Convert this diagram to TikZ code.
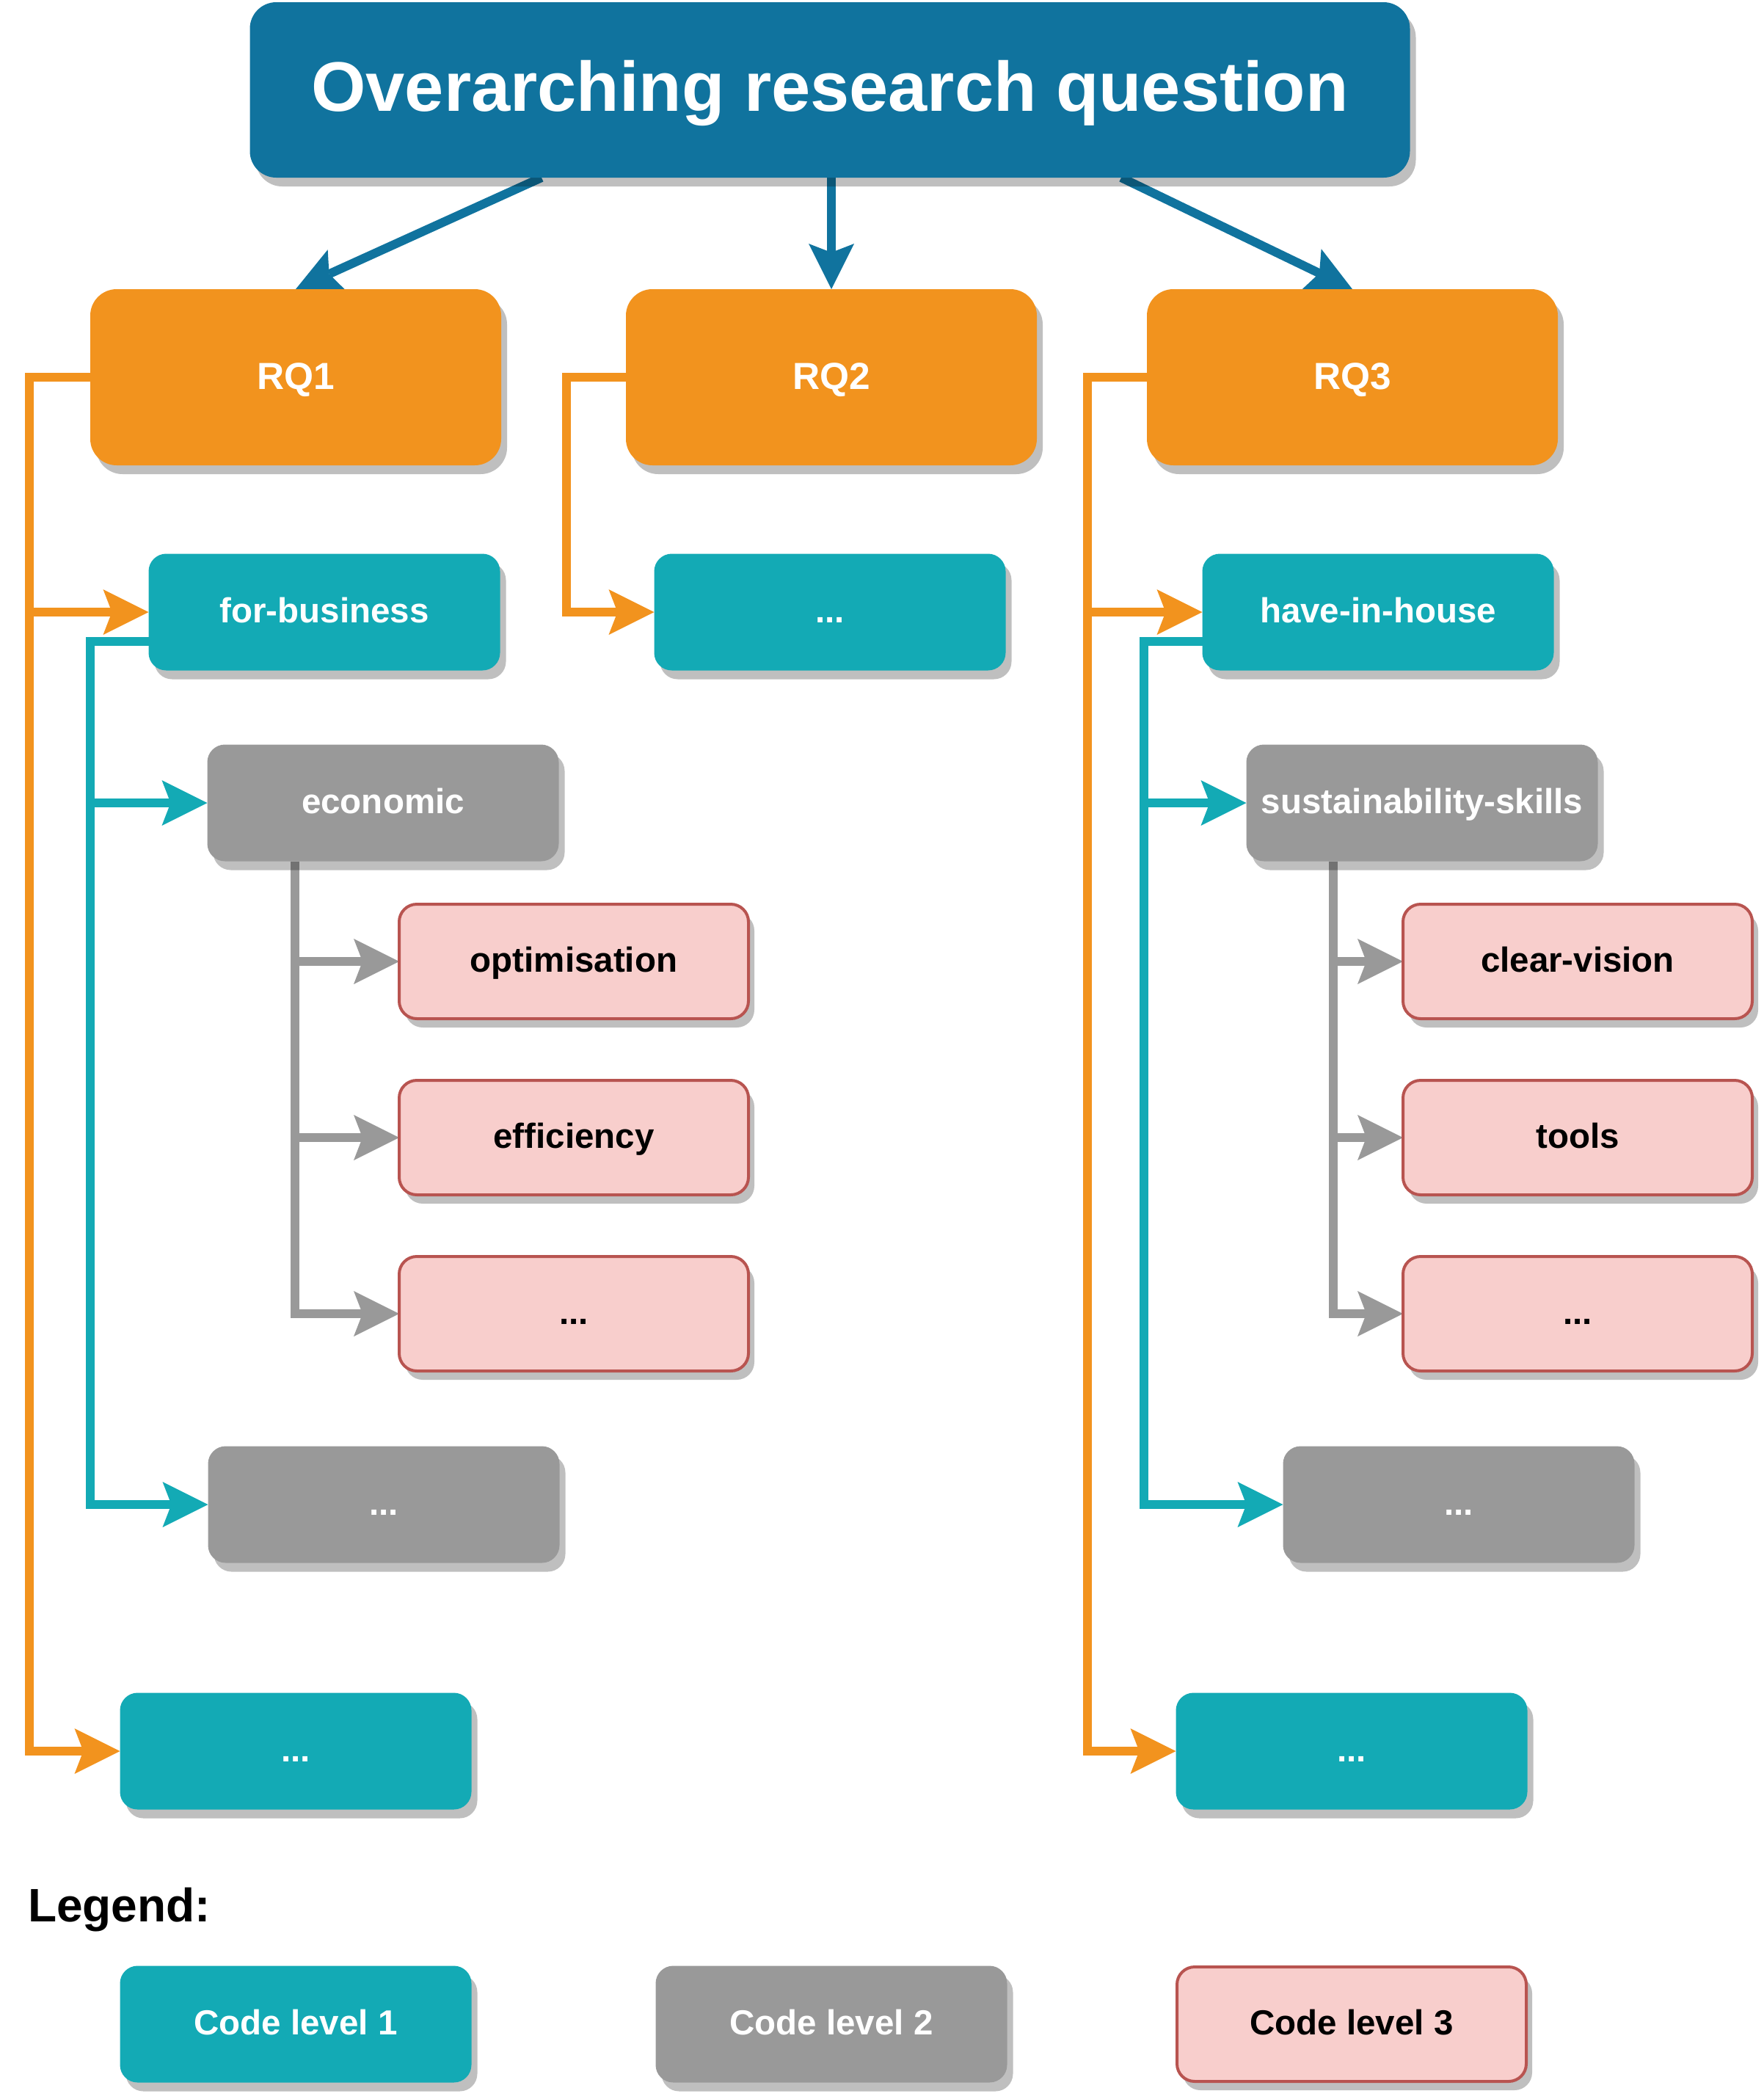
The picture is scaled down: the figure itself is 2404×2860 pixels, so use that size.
\documentclass[tikz,border=0pt]{standalone}
\usepackage{fontspec}
\setmainfont{Liberation Sans}
\usetikzlibrary{arrows.meta,shadows,calc}
\definecolor{cblue}{HTML}{10739E}
\definecolor{corange}{HTML}{F2931E}
\definecolor{cteal}{HTML}{13AAB5}
\definecolor{cgray}{HTML}{999999}
\definecolor{cpink}{HTML}{F8CECC}
\definecolor{cred}{HTML}{B85450}
\pgfdeclarelayer{bg}
\pgfsetlayers{bg,main}
\begin{document}
\begin{tikzpicture}[x=1pt,y=-1pt,
 shad/.style={drop shadow={shadow xshift=8pt,shadow yshift=-12pt,fill=black,opacity=0.25}},
 box/.style={rectangle,inner sep=0pt,outer sep=0pt,shad,align=center},
 titlebox/.style={box,fill=cblue,text=white,minimum width=1581pt,minimum height=239pt,rounded corners=36pt,font=\fontsize{95.6}{110}\selectfont\bfseries,text height=68pt,text depth=10pt},
 rqbox/.style={box,fill=corange,text=white,minimum width=560pt,minimum height=240pt,rounded corners=36pt,font=\fontsize{51.4}{60}\selectfont\bfseries,text height=37pt,text depth=4pt},
 codebox/.style={box,minimum width=479pt,minimum height=159pt,rounded corners=24pt,font=\fontsize{47.5}{56}\selectfont\bfseries,text height=34pt,text depth=6pt},
 lone/.style={codebox,fill=cteal,text=white},
 ltwo/.style={codebox,fill=cgray,text=white},
 lthree/.style={codebox,fill=cpink,draw=cred,line width=4pt,text=black,minimum width=476pt,minimum height=156pt},
 conn/.style={line width=12pt,-{Stealth[length=62pt,width=62pt,inset=12pt,line width=0pt]}},
 bconn/.style={conn,draw=cblue},
 oconn/.style={conn,draw=corange},
 tconn/.style={conn,draw=cteal},
 gconn/.style={conn,draw=cgray},
 legendtext/.style={font=\fontsize{64}{74}\selectfont\bfseries,text=black,inner sep=0pt,anchor=base west}
]
\useasboundingbox (0,0) rectangle (2404,2860);

% nodes
\node[titlebox] (title) at (1131,122.5) {Overarching research question};
\node[rqbox] (rq1) at (403,514) {RQ1};
\node[rqbox] (rq2) at (1133,514) {RQ2};
\node[rqbox] (rq3) at (1843,514) {RQ3};

\node[lone] (fb) at (442,834) {for-business};
\node[lone] (l1b) at (1131,834) {...};
\node[lone] (hih) at (1878,834) {have-in-house};

\node[ltwo] (eco) at (522,1094) {economic};
\node[ltwo] (sus) at (1938,1094) {sustainability-skills};

\node[lthree] (opt) at (782,1310) {optimisation};
\node[lthree] (eff) at (782,1550) {efficiency};
\node[lthree] (d3a) at (782,1790) {...};
\node[lthree] (cv) at (2150,1310) {clear-vision};
\node[lthree] (tools) at (2150,1550) {tools};
\node[lthree] (d3b) at (2150,1790) {...};

\node[ltwo] (d2a) at (523,2050) {...};
\node[ltwo] (d2b) at (1988,2050) {...};

\node[lone] (d1a) at (403,2386) {...};
\node[lone] (d1b) at (1842,2386) {...};

\node[legendtext] (legend) at (38,2618) {Legend:};
\node[lone] (leg1) at (403,2758) {Code level 1};
\node[ltwo] (leg2) at (1133,2758) {Code level 2};
\node[lthree] (leg3) at (1842,2758) {Code level 3};

% connectors
\begin{pgfonlayer}{bg}
\draw[bconn] ([xshift=-393pt]title.south) -- (rq1.north);
\draw[bconn] (title.south -| rq2.north) -- (rq2.north);
\draw[bconn] ([xshift=397pt]title.south) -- (rq3.north);

\draw[oconn] (rq1.west) -- ++(-83,0) |- (fb.west);
\draw[oconn] (rq1.west) -- ++(-83,0) |- (d1a.west);
\draw[oconn] (rq2.west) -- ++(-81,0) |- (l1b.west);
\draw[oconn] (rq3.west) -- ++(-81,0) |- (hih.west);
\draw[oconn] (rq3.west) -- ++(-81,0) |- (d1b.west);

\draw[tconn] ([yshift=-40pt]fb.west) -- ++(-80,0) |- (eco.west);
\draw[tconn] ([yshift=-40pt]fb.west) -- ++(-80,0) |- (d2a.west);
\draw[tconn] ([yshift=-40pt]hih.west) -- ++(-80,0) |- (sus.west);
\draw[tconn] ([yshift=-40pt]hih.west) -- ++(-80,0) |- (d2b.west);

\draw[gconn] ([xshift=-120pt]eco.south) |- (opt.west);
\draw[gconn] ([xshift=-120pt]eco.south) |- (eff.west);
\draw[gconn] ([xshift=-120pt]eco.south) |- (d3a.west);
\draw[gconn] ([xshift=-121pt]sus.south) |- (cv.west);
\draw[gconn] ([xshift=-121pt]sus.south) |- (tools.west);
\draw[gconn] ([xshift=-121pt]sus.south) |- (d3b.west);
\end{pgfonlayer}
\end{tikzpicture}
\end{document}
